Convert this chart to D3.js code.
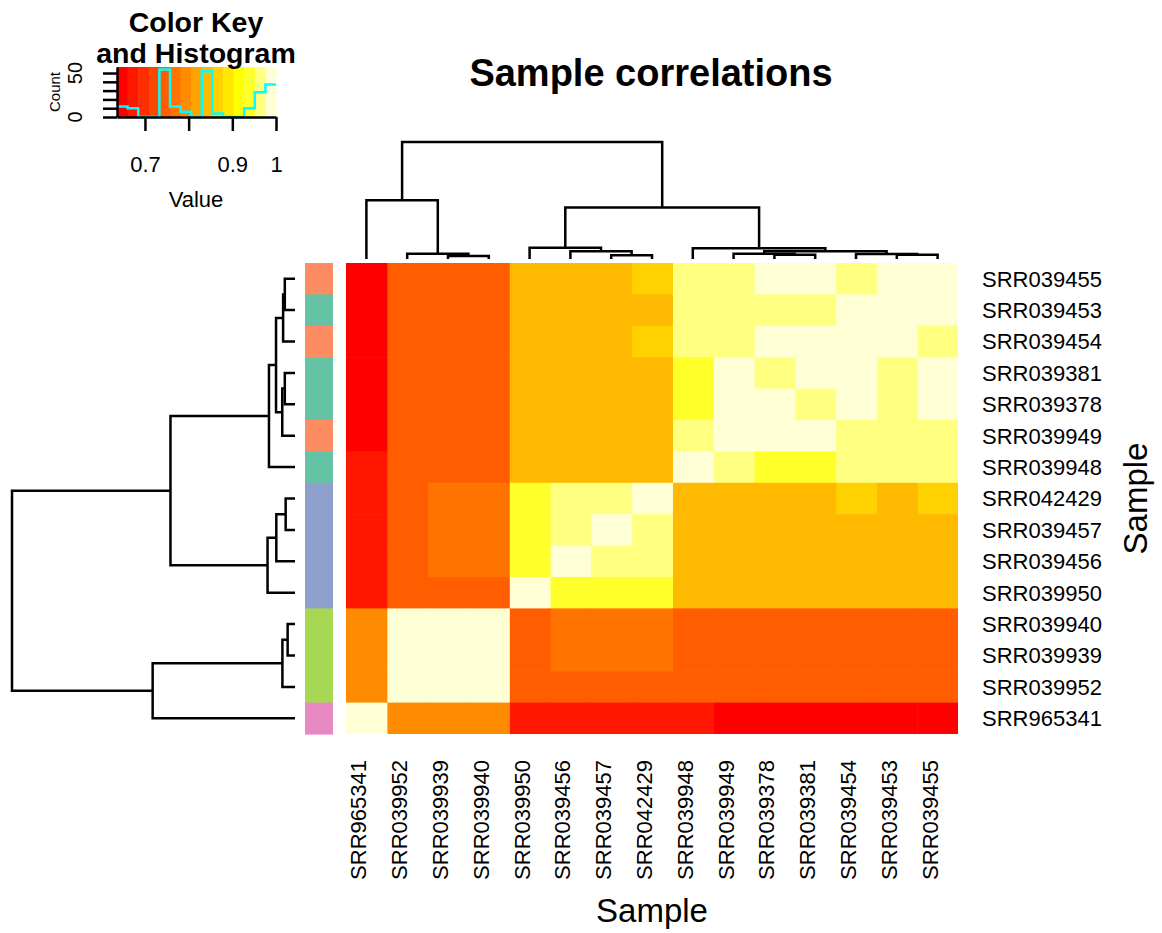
<!DOCTYPE html>
<html>
<head>
<meta charset="utf-8">
<script src="https://cdn.jsdelivr.net/npm/d3@7"></script>
<style>
  body { margin: 0; background: #fff; }
  svg text { font-family: "Liberation Sans", Arial, sans-serif; fill: #000; }
</style>
</head>
<body>
<div id="viz"></div>
<script>
// 1. Data (rows top to bottom; columns are the same samples reversed)
const samples = ["SRR039455", "SRR039453", "SRR039454", "SRR039381", "SRR039378",
  "SRR039949", "SRR039948", "SRR042429", "SRR039457", "SRR039456",
  "SRR039950", "SRR039940", "SRR039939", "SRR039952", "SRR965341"];

const corr = [
  [1, 0.988, 0.968, 0.982, 0.984, 0.963, 0.958, 0.862, 0.846, 0.843, 0.838, 0.749, 0.747, 0.744, 0.636],
  [0.988, 1, 0.986, 0.969, 0.966, 0.962, 0.959, 0.851, 0.845, 0.842, 0.839, 0.748, 0.746, 0.743, 0.640],
  [0.968, 0.986, 1, 0.983, 0.981, 0.965, 0.957, 0.864, 0.847, 0.844, 0.837, 0.750, 0.748, 0.745, 0.643],
  [0.982, 0.969, 0.983, 1, 0.972, 0.985, 0.945, 0.849, 0.844, 0.841, 0.836, 0.747, 0.745, 0.742, 0.647],
  [0.984, 0.966, 0.981, 0.972, 1, 0.987, 0.942, 0.848, 0.843, 0.840, 0.835, 0.746, 0.744, 0.741, 0.645],
  [0.963, 0.962, 0.965, 0.985, 0.987, 1, 0.961, 0.846, 0.842, 0.839, 0.834, 0.745, 0.743, 0.740, 0.651],
  [0.958, 0.959, 0.957, 0.945, 0.942, 0.961, 1, 0.850, 0.845, 0.842, 0.838, 0.744, 0.742, 0.739, 0.668],
  [0.862, 0.851, 0.864, 0.849, 0.848, 0.846, 0.850, 1, 0.970, 0.967, 0.944, 0.770, 0.768, 0.751, 0.674],
  [0.846, 0.845, 0.847, 0.844, 0.843, 0.842, 0.845, 0.970, 1, 0.973, 0.940, 0.772, 0.769, 0.749, 0.672],
  [0.843, 0.842, 0.844, 0.841, 0.840, 0.839, 0.842, 0.967, 0.973, 1, 0.943, 0.771, 0.767, 0.750, 0.676],
  [0.838, 0.839, 0.837, 0.836, 0.835, 0.834, 0.838, 0.944, 0.940, 0.943, 1, 0.752, 0.750, 0.747, 0.670],
  [0.749, 0.748, 0.750, 0.747, 0.746, 0.745, 0.744, 0.770, 0.772, 0.771, 0.752, 1, 0.995, 0.990, 0.795],
  [0.747, 0.746, 0.748, 0.745, 0.744, 0.743, 0.742, 0.768, 0.769, 0.767, 0.750, 0.995, 1, 0.991, 0.793],
  [0.744, 0.743, 0.745, 0.742, 0.741, 0.740, 0.739, 0.751, 0.749, 0.750, 0.747, 0.990, 0.991, 1, 0.790],
  [0.636, 0.640, 0.643, 0.647, 0.645, 0.651, 0.668, 0.674, 0.672, 0.676, 0.670, 0.795, 0.793, 0.790, 1]
];

// side colour groups per sample (row order)
const sideGroups = ["b", "a", "b", "a", "a", "b", "a", "c", "c", "c", "c", "e", "e", "e", "d"];
const groupNames = ["a", "b", "c", "d", "e"];

// hierarchical clustering: [left, right, height]; "mK" = merge number K
const merges = [
  ["SRR039455", "SRR039453", 0.036],
  ["m0", "SRR039454", 0.042],
  ["SRR039381", "SRR039378", 0.036],
  ["m2", "SRR039949", 0.045],
  ["m1", "m3", 0.067],
  ["m4", "SRR039948", 0.092],
  ["SRR042429", "SRR039457", 0.033],
  ["m6", "SRR039456", 0.066],
  ["m7", "SRR039950", 0.097],
  ["m5", "m8", 0.44],
  ["SRR039940", "SRR039939", 0.026],
  ["m10", "SRR039952", 0.0445],
  ["m11", "SRR965341", 0.503],
  ["m9", "m12", 1.0]
];

// heat.colors(15)
const heatColors = ["#FF0000", "#FF1700", "#FF2E00", "#FF4600", "#FF5D00", "#FF7400",
  "#FF8B00", "#FFA200", "#FFB900", "#FFD100", "#FFE800", "#FFFF00",
  "#FFFF2A", "#FFFF80", "#FFFFD5"];

const keyTicks = [0.7, 0.8, 0.9, 1];
const keyTickLabels = ["0.7", "", "0.9", "1"];
const countTicks = [0, 10, 20, 30, 40, 50];
const countTickLabels = ["0", "", "", "", "", "50"];

(function(){

  // 2. Container
  const svg = d3.select("#viz").append("svg")
    .attr("width", 1162)
    .attr("height", 933);

  // 3. Heatmap scales
  const heat = { x0: 346, x1: 958, y0: 263, y1: 734 };
  const colOrder = samples.slice().reverse();
  const x = d3.scaleBand().domain(colOrder).range([heat.x0, heat.x1]);
  const y = d3.scaleBand().domain(samples).range([heat.y0, heat.y1]);

  const allVals = corr.flat();
  const color = d3.scaleQuantize().domain(d3.extent(allVals)).range(heatColors);

  const cells = [];
  samples.forEach((r, i) => samples.forEach((c, j) => {
    cells.push({ row: r, col: c, value: corr[i][j] });
  }));

  svg.append("g")
    .selectAll("rect")
    .data(cells)
    .join("rect")
      .attr("x", d => x(d.col))
      .attr("y", d => y(d.row))
      .attr("width", d => x.bandwidth() + (d.col === colOrder[colOrder.length - 1] ? 0 : 0.6))
      .attr("height", d => y.bandwidth() + (d.row === samples[samples.length - 1] ? 0 : 0.6))
      .attr("fill", d => color(d.value));

  // 4. Row side colours
  const side = d3.scaleOrdinal().domain(groupNames).range(["#66C2A5", "#FC8D62", "#8DA0CB", "#E78AC3", "#A6D854"]);
  svg.append("g")
    .selectAll("rect")
    .data(samples)
    .join("rect")
      .attr("x", 305)
      .attr("y", d => y(d))
      .attr("width", 28)
      .attr("height", y.bandwidth() + 0.6)
      .attr("fill", (d, i) => side(sideGroups[i]));

  // 5. Dendrograms
  const nodes = {};
  merges.forEach((m, k) => {
    nodes["m" + k] = {
      name: "m" + k,
      height: m[2],
      children: [m[0], m[1]].map(c => nodes[c] || { name: c, height: 0 })
    };
  });
  const root = d3.hierarchy(nodes["m" + (merges.length - 1)]);
  const maxH = root.data.height;

  root.eachAfter(n => {
    n.rpos = n.children ? d3.mean(n.children, c => c.rpos) : y(n.data.name) + y.bandwidth() / 2;
    n.cpos = n.children ? d3.mean(n.children, c => c.cpos) : x(n.data.name) + x.bandwidth() / 2;
  });

  const hRow = d3.scaleLinear().domain([0, maxH]).range([295, 12]);
  const hCol = d3.scaleLinear().domain([0, maxH]).range([259, 142]);
  const inner = root.descendants().filter(n => n.children);

  svg.append("g")
    .selectAll("path")
    .data(inner)
    .join("path")
      .attr("d", n => {
        const [a, b] = n.children;
        return `M${hRow(a.data.height)},${a.rpos}H${hRow(n.data.height)}V${b.rpos}H${hRow(b.data.height)}`;
      })
      .attr("fill", "none")
      .attr("stroke", "#000")
      .attr("stroke-width", 2.5);

  svg.append("g")
    .selectAll("path")
    .data(inner)
    .join("path")
      .attr("d", n => {
        const [a, b] = n.children;
        return `M${a.cpos},${hCol(a.data.height)}V${hCol(n.data.height)}H${b.cpos}V${hCol(b.data.height)}`;
      })
      .attr("fill", "none")
      .attr("stroke", "#000")
      .attr("stroke-width", 2.5);

  // 6. Labels
  svg.append("g")
    .selectAll("text")
    .data(samples)
    .join("text")
      .attr("x", 982)
      .attr("y", d => y(d) + y.bandwidth() / 2)
      .attr("dy", "0.36em")
      .attr("font-size", 22)
      .text(d => d);

  svg.append("g")
    .selectAll("text")
    .data(colOrder)
    .join("text")
      .attr("transform", d => `translate(${x(d) + x.bandwidth() / 2},760) rotate(-90)`)
      .attr("text-anchor", "end")
      .attr("font-size", 22)
      .text(d => d);

  svg.append("text")
    .attr("x", 651).attr("y", 86)
    .attr("text-anchor", "middle")
    .attr("font-size", 38)
    .attr("font-weight", "bold")
    .text("Sample correlations");

  svg.append("text")
    .attr("x", (heat.x0 + heat.x1) / 2).attr("y", 922)
    .attr("text-anchor", "middle")
    .attr("font-size", 33)
    .text("Sample");

  svg.append("text")
    .attr("transform", `translate(1147,${(heat.y0 + heat.y1) / 2}) rotate(-90)`)
    .attr("text-anchor", "middle")
    .attr("font-size", 33)
    .text("Sample");

  // 7. Colour key with histogram
  const key = { x0: 117, x1: 276, y0: 67, y1: 117 };
  const kx = d3.scaleLinear().domain(color.domain()).range([key.x0, key.x1]);

  svg.append("g")
    .selectAll("rect")
    .data(heatColors)
    .join("rect")
      .attr("x", c => kx(color.invertExtent(c)[0]))
      .attr("y", key.y0)
      .attr("width", c => kx(color.invertExtent(c)[1]) - kx(color.invertExtent(c)[0]) + 0.5)
      .attr("height", key.y1 - key.y0)
      .attr("fill", c => c);

  const bins = d3.bin().domain(color.domain()).thresholds(color.thresholds())(allVals);
  const maxCount = d3.max(bins, b => b.length);
  const ky = d3.scaleLinear().domain([0, maxCount / 0.95]).range([key.y1, key.y0]);
  const last = bins[bins.length - 1];
  const steps = bins.map(b => [b.x0, b.length]).concat([[last.x1, last.length]]);

  svg.append("path")
    .datum(steps)
    .attr("d", d3.line().x(d => kx(d[0])).y(d => ky(d[1])).curve(d3.curveStepAfter))
    .attr("fill", "none")
    .attr("stroke", "#00FFFF")
    .attr("stroke-width", 2.5);

  const xAxis = svg.append("g")
    .attr("transform", `translate(0,${key.y1})`)
    .call(d3.axisBottom(kx).tickValues(keyTicks).tickFormat((d, i) => keyTickLabels[i])
      .tickSize(14).tickSizeOuter(0).tickPadding(25));
  const yAxis = svg.append("g")
    .attr("transform", `translate(${key.x0},0)`)
    .call(d3.axisLeft(ky).tickValues(countTicks).tickFormat("")
      .tickSize(14).tickSizeOuter(0));
  [xAxis, yAxis].forEach(g => {
    g.selectAll("path, line").attr("stroke", "#000").attr("stroke-width", 2.5);
  });
  xAxis.selectAll("text")
    .attr("font-size", 22)
    .attr("font-family", "Liberation Sans, Arial, sans-serif")
    .attr("fill", "#000");

  svg.append("g")
    .selectAll("text")
    .data(countTicks)
    .join("text")
      .attr("transform", d => `translate(82,${ky(d)}) rotate(-90)`)
      .attr("text-anchor", "middle")
      .attr("font-size", 20)
      .text((d, i) => countTickLabels[i]);

  svg.append("text")
    .attr("transform", "translate(60,92) rotate(-90)")
    .attr("text-anchor", "middle")
    .attr("font-size", 15)
    .text("Count");

  svg.append("text")
    .attr("x", 196).attr("y", 207)
    .attr("text-anchor", "middle")
    .attr("font-size", 22)
    .text("Value");

  svg.append("g")
    .selectAll("text")
    .data(["Color Key", "and Histogram"])
    .join("text")
      .attr("x", 196)
      .attr("y", (d, i) => 32 + i * 31)
      .attr("text-anchor", "middle")
      .attr("font-size", 28.5)
      .attr("font-weight", "bold")
      .text(d => d);

})();
</script>
</body>
</html>
